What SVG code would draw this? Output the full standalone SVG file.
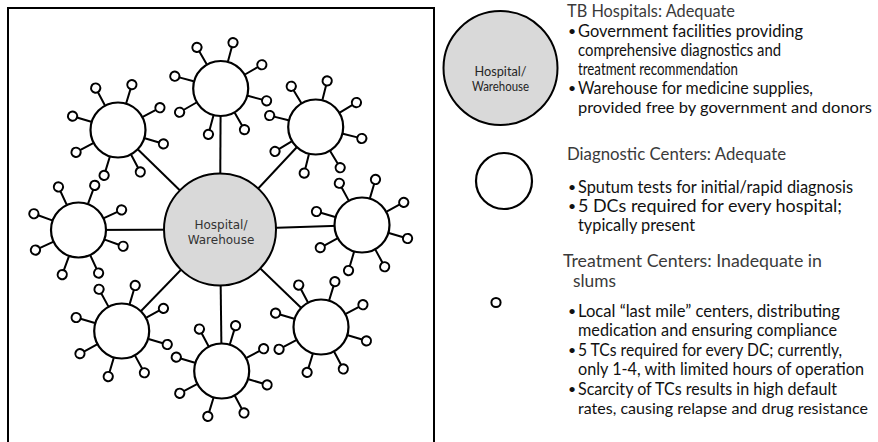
<svg xmlns="http://www.w3.org/2000/svg" xmlns:xlink="http://www.w3.org/1999/xlink" width="878" height="442" viewBox="0 0 878 442">
<style>
.frame{fill:none;stroke:#000;stroke-width:2}
.spoke{stroke:#000;stroke-width:2;fill:none}
.stem{stroke:#000;stroke-width:2;fill:none}
.hub{fill:#d9d9d9;stroke:#000;stroke-width:2}
.dc{fill:#fff;stroke:#000;stroke-width:2.2}
.tc{fill:#fff;stroke:#000;stroke-width:2}
.hubtxt{font-family:"DejaVu Sans",Verdana,sans-serif;font-size:12px;fill:#333;text-anchor:middle}
.lgtxt{font-family:Lato,"Liberation Sans",sans-serif;font-size:12.5px;fill:#262626;text-anchor:middle}
.head{font-family:Lato,"Liberation Sans",sans-serif;font-size:17px;fill:#3a3a3a}
.body{font-family:Lato,"Liberation Sans",sans-serif;font-size:17px;fill:#111}
.bul{font-family:Lato,"Liberation Sans",sans-serif;font-size:14px;fill:#111}
</style>
<defs>
<path id="stems" class="stem" d="M28 0H43M19.8 19.8L30.4 30.4M0 28V43M-19.8 19.8L-30.4 30.4M-28 0H-43M-19.8 -19.8L-30.4 -30.4M0 -28V-43M19.8 -19.8L30.4 -30.4"/>
<g id="tcs">
<circle class="tc" cx="47.5" cy="0" r="4.6"/>
<circle class="tc" cx="33.59" cy="33.59" r="4.6"/>
<circle class="tc" cx="0" cy="47.5" r="4.6"/>
<circle class="tc" cx="-33.59" cy="33.59" r="4.6"/>
<circle class="tc" cx="-47.5" cy="0" r="4.6"/>
<circle class="tc" cx="-33.59" cy="-33.59" r="4.6"/>
<circle class="tc" cx="0" cy="-47.5" r="4.6"/>
<circle class="tc" cx="33.59" cy="-33.59" r="4.6"/>
</g>
</defs>

<rect class="frame" x="8" y="8" width="426" height="450"/>

<g id="connectors">
<line class="spoke" x1="220" y1="229.5" x2="220.7" y2="88.5"/>
<line class="spoke" x1="220" y1="229.5" x2="315.7" y2="127"/>
<line class="spoke" x1="220" y1="229.5" x2="362" y2="225"/>
<line class="spoke" x1="220" y1="229.5" x2="321" y2="327"/>
<line class="spoke" x1="220" y1="229.5" x2="221.7" y2="371"/>
<line class="spoke" x1="220" y1="229.5" x2="121.7" y2="331"/>
<line class="spoke" x1="220" y1="229.5" x2="78.5" y2="230"/>
<line class="spoke" x1="220" y1="229.5" x2="118" y2="130"/>
<use href="#stems" transform="translate(220.7,88.5) rotate(15)"/>
<use href="#stems" transform="translate(315.7,127) rotate(14)"/>
<use href="#stems" transform="translate(362,225) rotate(16.5)"/>
<use href="#stems" transform="translate(321,327) rotate(17)"/>
<use href="#stems" transform="translate(221.7,371) rotate(17)"/>
<use href="#stems" transform="translate(121.7,331) rotate(16.5)"/>
<use href="#stems" transform="translate(78.5,230) rotate(20)"/>
<use href="#stems" transform="translate(118,130) rotate(17)"/>
</g>

<g id="hub">
<circle class="hub" cx="220" cy="229.5" r="56"/>
<text class="hubtxt" x="221" y="229">Hospital/</text>
<text class="hubtxt" x="221" y="244">Warehouse</text>
</g>

<g id="dc-top" transform="translate(220.7,88.5)"><circle class="dc" r="27.5"/><use href="#tcs" transform="rotate(15)"/></g>
<g id="dc-upper-right" transform="translate(315.7,127)"><circle class="dc" r="27.5"/><use href="#tcs" transform="rotate(14)"/></g>
<g id="dc-right" transform="translate(362,225)"><circle class="dc" r="27.5"/><use href="#tcs" transform="rotate(16.5)"/></g>
<g id="dc-lower-right" transform="translate(321,327)"><circle class="dc" r="27.5"/><use href="#tcs" transform="rotate(17)"/></g>
<g id="dc-bottom" transform="translate(221.7,371)"><circle class="dc" r="27.5"/><use href="#tcs" transform="rotate(17)"/></g>
<g id="dc-lower-left" transform="translate(121.7,331)"><circle class="dc" r="27.5"/><use href="#tcs" transform="rotate(16.5)"/></g>
<g id="dc-left" transform="translate(78.5,230)"><circle class="dc" r="27.5"/><use href="#tcs" transform="rotate(20)"/></g>
<g id="dc-upper-left" transform="translate(118,130)"><circle class="dc" r="27.5"/><use href="#tcs" transform="rotate(17)"/></g>

<g id="legend-hospital">
<circle class="hub" cx="500.5" cy="68" r="57"/>
<text class="lgtxt" x="500.5" y="76" textLength="52" lengthAdjust="spacingAndGlyphs">Hospital/</text>
<text class="lgtxt" x="500.5" y="91" textLength="57" lengthAdjust="spacingAndGlyphs">Warehouse</text>
<text class="head" x="567" y="17" font-size="16.5" textLength="168" lengthAdjust="spacingAndGlyphs">TB Hospitals: Adequate</text>
<text class="bul" x="568" y="36">•</text>
<text class="body" x="578" y="37" textLength="225" lengthAdjust="spacingAndGlyphs">Government facilities providing</text>
<text class="body" x="578" y="56" textLength="203" lengthAdjust="spacingAndGlyphs">comprehensive diagnostics and</text>
<text class="body" x="578" y="75" textLength="160" lengthAdjust="spacingAndGlyphs">treatment recommendation</text>
<text class="bul" x="568" y="93">•</text>
<text class="body" x="578" y="94" textLength="235" lengthAdjust="spacingAndGlyphs">Warehouse for medicine supplies,</text>
<text class="body" x="578" y="113" style="font-size:16px" textLength="294" lengthAdjust="spacingAndGlyphs">provided free by government and donors</text>
</g>

<g id="legend-diagnostic">
<circle class="dc" cx="504" cy="181" r="28"/>
<text class="head" x="567" y="160" textLength="219" lengthAdjust="spacingAndGlyphs">Diagnostic Centers: Adequate</text>
<text class="bul" x="568" y="192">•</text>
<text class="body" x="578" y="193" textLength="275" lengthAdjust="spacingAndGlyphs">Sputum tests for initial/rapid diagnosis</text>
<text class="bul" x="568" y="211">•</text>
<text class="body" x="578" y="212" textLength="264" lengthAdjust="spacingAndGlyphs">5 DCs required for every hospital;</text>
<text class="body" x="578" y="231" textLength="117" lengthAdjust="spacingAndGlyphs">typically present</text>
</g>

<g id="legend-treatment">
<circle class="tc" cx="496" cy="302.5" r="4.6"/>
<text class="head" x="563" y="267" textLength="259" lengthAdjust="spacingAndGlyphs">Treatment Centers: Inadequate in</text>
<text class="head" x="573" y="287" textLength="43" lengthAdjust="spacingAndGlyphs">slums</text>
<text class="bul" x="568" y="316">•</text>
<text class="body" x="578" y="317" textLength="262" lengthAdjust="spacingAndGlyphs">Local “last mile” centers, distributing</text>
<text class="body" x="578" y="336" textLength="259" lengthAdjust="spacingAndGlyphs">medication and ensuring compliance</text>
<text class="bul" x="568" y="355">•</text>
<text class="body" x="578" y="356" textLength="264" lengthAdjust="spacingAndGlyphs">5 TCs required for every DC; currently,</text>
<text class="body" x="578" y="375" textLength="286" lengthAdjust="spacingAndGlyphs">only 1-4, with limited hours of operation</text>
<text class="bul" x="568" y="394">•</text>
<text class="body" x="578" y="395" textLength="259" lengthAdjust="spacingAndGlyphs">Scarcity of TCs results in high default</text>
<text class="body" x="578" y="414" style="font-size:16px" textLength="290" lengthAdjust="spacingAndGlyphs">rates, causing relapse and drug resistance</text>
</g>
</svg>
